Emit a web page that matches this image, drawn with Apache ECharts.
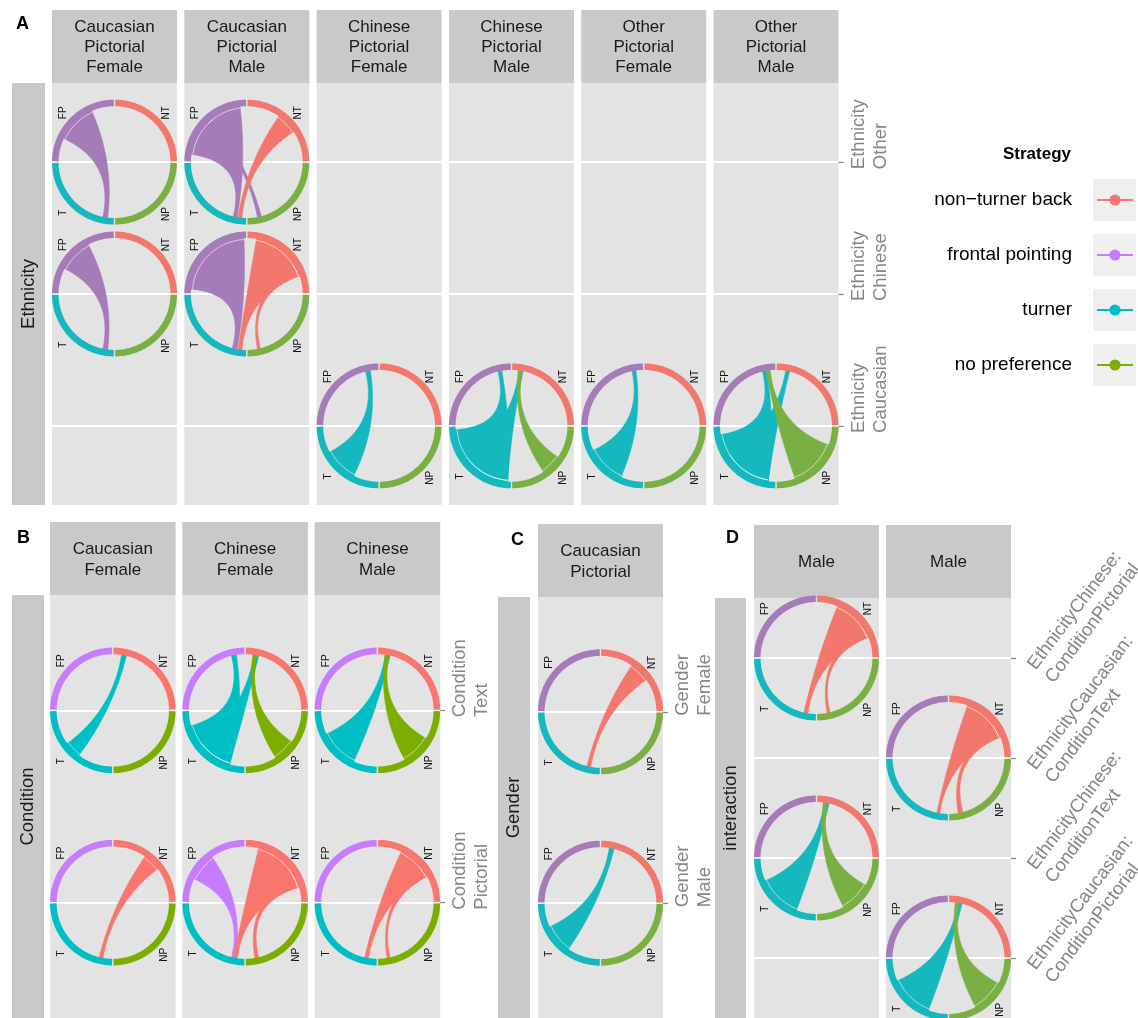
<!DOCTYPE html>
<html><head><meta charset="utf-8">
<script src="https://cdn.jsdelivr.net/npm/echarts@6/dist/echarts.min.js"></script>
<style>html,body{margin:0;padding:0;background:#fff}#c{width:1138px;height:1018px}</style>
</head><body><div id="c"></div>
<script>
// ---------------- data ----------------
const strategyCodes = ['NT', 'FP', 'T', 'NP'];
const strategyNames = ['non−turner back', 'frontal pointing', 'turner', 'no preference'];

const colsA = ['Caucasian\nPictorial\nFemale', 'Caucasian\nPictorial\nMale', 'Chinese\nPictorial\nFemale', 'Chinese\nPictorial\nMale', 'Other\nPictorial\nFemale', 'Other\nPictorial\nMale'];
const rowsA = ['Ethnicity\nOther', 'Ethnicity\nChinese', 'Ethnicity\nCaucasian'];
const colsB = ['Caucasian\nFemale', 'Chinese\nFemale', 'Chinese\nMale'];
const rowsB = ['Condition\nText', 'Condition\nPictorial'];
const colsC = ['Caucasian\nPictorial'];
const rowsC = ['Gender\nFemale', 'Gender\nMale'];
const colsD = ['Male', 'Male'];
const rowsD = ['EthnicityChinese:\nConditionPictorial', 'EthnicityCaucasian:\nConditionText', 'EthnicityChinese:\nConditionText', 'EthnicityCaucasian:\nConditionPictorial'];

// flows: [column, row, from, to, from-span start (deg), from-span end (deg), to-span start (deg), to-span end (deg)]
const flowsA = [
  [0, 0, 'FP', 'T', 114, 155, 258, 263],
  [0, 1, 'FP', 'T', 118, 153, 258, 263],
  [1, 0, 'FP', 'T', 97, 172, 256, 260],
  [1, 0, 'FP', 'NP', 128, 136, 281, 285],
  [1, 0, 'NT', 'T', 33, 55, 261, 265],
  [1, 1, 'FP', 'T', 93, 175, 255, 260],
  [1, 1, 'NT', 'T', 19, 80, 261, 265],
  [1, 1, 'NT', 'NP', 19, 33, 281, 284],
  [2, 2, 'T', 'FP', 208, 243, 99, 104],
  [3, 2, 'T', 'FP', 184, 266, 100, 104],
  [3, 2, 'T', 'NT', 215, 266, 78, 82],
  [3, 2, 'NP', 'NT', 305, 326, 79, 83],
  [4, 2, 'T', 'FP', 206, 246, 98, 102],
  [5, 2, 'T', 'FP', 189, 262, 100, 104],
  [5, 2, 'T', 'NT', 212, 262, 76, 80],
  [5, 2, 'NP', 'FP', 290, 340, 96, 100]
];
const flowsB = [
  [0, 0, 'T', 'NT', 216, 233, 76, 81],
  [0, 1, 'NT', 'T', 37, 55, 256, 260],
  [1, 0, 'T', 'FP', 196, 254, 99, 104],
  [1, 0, 'T', 'NT', 215, 254, 76, 81],
  [1, 0, 'NP', 'NT', 303, 326, 78, 82],
  [1, 1, 'FP', 'T', 126, 155, 256, 260],
  [1, 1, 'NT', 'T', 16, 76, 258, 262],
  [1, 1, 'NT', 'NP', 16, 32, 280, 284],
  [2, 0, 'T', 'NT', 205, 245, 77, 82],
  [2, 0, 'NP', 'NT', 299, 330, 78, 82],
  [2, 1, 'NT', 'T', 28, 65, 257, 261],
  [2, 1, 'NT', 'NP', 28, 38, 280, 283]
];
const flowsC = [
  [0, 0, 'NT', 'T', 35, 56, 256, 260],
  [0, 1, 'T', 'NT', 205, 235, 76, 81]
];
const flowsD = [
  [0, 0, 'NT', 'T', 22, 68, 257, 261],
  [0, 0, 'NT', 'NP', 22, 34, 281, 284],
  [0, 2, 'T', 'NT', 204, 249, 77, 82],
  [0, 2, 'NP', 'NT', 299, 331, 79, 83],
  [1, 1, 'NT', 'T', 22, 70, 258, 261],
  [1, 1, 'NT', 'NP', 22, 34, 280, 285],
  [1, 3, 'T', 'NT', 204, 249, 76, 80],
  [1, 3, 'NP', 'NT', 299, 333, 79, 83]
];

// ---------------- style / layout ----------------
const FONT = '"Liberation Sans", Arial, Helvetica, sans-serif';
const palMuted = {NT: '#F2776D', FP: '#A67CB8', T: '#15B8BE', NP: '#7AB043'};
const palBright = {NT: '#F8766D', FP: '#C77CFF', T: '#00BFC4', NP: '#7CAE00'};
const sectorStart = {NT: 0, FP: 90, T: 180, NP: 270};
const PANEL_BG = '#E3E3E3', STRIP_BG = '#C9C9C9', AXIS_GREY = '#858585';

const panels = [
  {letter: 'A', cols: colsA, rows: rowsA, flows: flowsA, pal: palMuted, rowTitle: 'Ethnicity',
   lefts: [52, 184.3, 316.6, 449, 581.2, 713.5], w: 125, top: 83, h: 422, stripTop: 10, rowStrip: [12, 45],
   lineH: 20, rot: 90, margin: 9, labShift: 7, letterPos: [11, 10]},
  {letter: 'B', cols: colsB, rows: rowsB, flows: flowsB, pal: palBright, rowTitle: 'Condition',
   lefts: [50, 182.3, 314.6], w: 125.6, top: 595, h: 423, stripTop: 522, rowStrip: [12, 44],
   lineH: 21, rot: 90, margin: 9, labShift: 7, letterPos: [12, 524]},
  {letter: 'C', cols: colsC, rows: rowsC, flows: flowsC, pal: palMuted, rowTitle: 'Gender',
   lefts: [538], w: 125, top: 597, h: 421, stripTop: 524, rowStrip: [498, 530],
   lineH: 21, rot: 90, margin: 9, labShift: 4, letterPos: [506, 526]},
  {letter: 'D', cols: colsD, rows: rowsD, flows: flowsD, pal: palMuted, rowTitle: 'interaction',
   lefts: [754, 886], w: 125, top: 598, h: 420, stripTop: 525, rowStrip: [715, 746],
   lineH: 21, rot: 53, margin: 12, labShift: 3, letterPos: [721, 524]}
];

// ---------------- geometry helpers ----------------
function arcPts(c, r, a0, a1) {
  const n = Math.max(2, Math.ceil(Math.abs(a1 - a0) / 1.5));
  const pts = [];
  for (let i = 0; i <= n; i++) {
    const a = (a0 + (a1 - a0) * i / n) * Math.PI / 180;
    pts.push([c[0] + r * Math.cos(a), c[1] - r * Math.sin(a)]);
  }
  return pts;
}
function bezPts(p0, c, p2, n) {
  const pts = [];
  for (let i = 1; i < n; i++) {
    const t = i / n, u = 1 - t;
    pts.push([u * u * p0[0] + 2 * u * t * c[0] + t * t * p2[0], u * u * p0[1] + 2 * u * t * c[1] + t * t * p2[1]]);
  }
  return pts;
}
function ribbonPts(c, r, a1, a2, b1, b2) {
  while (b1 < a2) { b1 += 360; b2 += 360; }
  const A = arcPts(c, r, a1, a2), B = arcPts(c, r, b1, b2);
  return A.concat(bezPts(A[A.length - 1], c, B[0], 48), B, bezPts(B[B.length - 1], c, A[0], 48));
}

function makeRender(p, ci) {
  return function (params, api) {
    const row = api.value(1);
    const c = api.coord([0, row]);
    const R = api.coord([1, row])[0] - c[0];
    const rIn = R * 0.895;
    const fl = p.flows.filter(f => f[0] === ci && f[1] === row);
    const children = [];
    fl.forEach(f => {
      const col = p.pal[f[2]];
      children.push({type: 'polygon', shape: {points: ribbonPts(c, rIn + 0.5, f[4], f[5], f[6], f[7])},
        style: {fill: col, stroke: col, lineWidth: 0.6, lineJoin: 'round'}});
    });
    fl.forEach(f => {
      children.push({type: 'polyline', shape: {points: arcPts(c, R * 0.872, f[4] + 0.3, f[5] - 0.3)},
        style: {stroke: 'rgba(255,255,255,0.75)', lineWidth: 0.8, fill: null}});
    });
    strategyCodes.forEach(k => {
      const s = sectorStart[k], g = 0.7;
      const outer = arcPts(c, R, s + g, s + 90 - g);
      const inner = arcPts(c, rIn, s + 90 - g, s + g);
      children.push({type: 'polygon', shape: {points: outer.concat(inner)}, style: {fill: p.pal[k], stroke: null}});
    });
    const lab = [['FP', -0.82, -0.79], ['NT', 0.82, -0.79], ['T', -0.82, 0.81], ['NP', 0.82, 0.83]];
    lab.forEach(l => {
      children.push({type: 'text', x: c[0] + l[1] * R, y: c[1] + l[2] * R, rotation: Math.PI / 2,
        style: {text: l[0], x: 0, y: 0, fill: '#111', fontSize: 10, fontFamily: FONT, align: 'center', verticalAlign: 'middle'}});
    });
    return {type: 'group', children: children};
  };
}

// ---------------- build option ----------------
const grids = [], xAxes = [], yAxes = [], series = [], graphics = [], titles = [];

panels.forEach(p => {
  const n = p.rows.length;
  const vals = p.rows.map((_, i) => i);
  const pxPerUnit = p.h / (n + 0.2);
  const labVals = vals.map(v => v + p.labShift / pxPerUnit);
  titles.push({text: p.letter, left: p.letterPos[0], top: p.letterPos[1],
    textStyle: {fontSize: 18, fontWeight: 'bold', color: '#000', fontFamily: FONT}});
  // row strip
  graphics.push({type: 'rect', shape: {x: p.rowStrip[0], y: p.top, width: p.rowStrip[1] - p.rowStrip[0], height: p.h}, style: {fill: STRIP_BG}, z: 1});
  graphics.push({type: 'text', x: (p.rowStrip[0] + p.rowStrip[1]) / 2, y: p.top + p.h / 2, rotation: Math.PI / 2, z: 2,
    style: {text: p.rowTitle, fill: '#1a1a1a', fontSize: 18.5, fontFamily: FONT, align: 'center', verticalAlign: 'middle'}});
  p.cols.forEach((colName, ci) => {
    const gi = grids.length;
    const last = ci === p.cols.length - 1;
    const left = p.lefts[ci];
    grids.push({left: left, top: p.top, width: p.w, height: p.h, show: true, backgroundColor: PANEL_BG, borderWidth: 0,
      containLabel: false, outerBoundsMode: 'none'});
    xAxes.push({gridIndex: gi, type: 'value', min: -1, max: 1, show: false});
    const lab = {show: last, customValues: labVals, color: AXIS_GREY, fontSize: 18.5, fontFamily: FONT, lineHeight: 22,
      rotate: p.rot, align: 'left', verticalAlign: 'top', margin: p.margin,
      formatter: v => p.rows[Math.round(v)]};
    yAxes.push({gridIndex: gi, type: 'value', inverse: true, min: -0.6, max: n - 0.4, position: 'right',
      axisLine: {show: false, onZero: false},
      axisTick: {show: last, customValues: vals, length: 5, lineStyle: {color: AXIS_GREY, width: 1.3}},
      axisLabel: lab,
      splitLine: {show: true, lineStyle: {color: '#FFFFFF', width: 2}}});
    // strip
    graphics.push({type: 'rect', shape: {x: left, y: p.stripTop, width: p.w, height: p.top - p.stripTop}, style: {fill: STRIP_BG}, z: 1});
    graphics.push({type: 'text', x: left + p.w / 2, y: (p.stripTop + p.top) / 2 + 1, z: 2,
      style: {text: colName, fill: '#1a1a1a', fontSize: 17, fontFamily: FONT, align: 'center', verticalAlign: 'middle', lineHeight: p.lineH}});
    // diagrams
    const cells = [];
    p.flows.forEach(f => { if (f[0] === ci && !cells.some(c => c[1] === f[1])) cells.push([0, f[1]]); });
    series.push({type: 'custom', coordinateSystem: 'cartesian2d', xAxisIndex: gi, yAxisIndex: gi,
      data: cells, encode: {x: 0, y: 1}, renderItem: makeRender(p, ci), silent: true, clip: false});
  });
});

// legend series (no data, legend keys only)
strategyNames.forEach((nm, i) => {
  series.push({type: 'line', name: nm, xAxisIndex: 0, yAxisIndex: 0, data: [], symbol: 'circle', symbolSize: 9,
    color: palBright[strategyCodes[i]], lineStyle: {width: 2}});
});
// legend key backgrounds
[200, 255, 310, 365].forEach(y => {
  graphics.push({type: 'rect', shape: {x: 1093, y: y - 21, width: 43, height: 42}, style: {fill: '#EFEFEF'}, z: 0});
});
titles.push({text: 'Strategy', left: 998, top: 141, textStyle: {fontSize: 17, fontWeight: 'bold', color: '#000', fontFamily: FONT}});

const option = {
  animation: false,
  textStyle: {fontFamily: FONT},
  title: titles,
  grid: grids,
  xAxis: xAxes,
  yAxis: yAxes,
  legend: {orient: 'vertical', right: 4, top: 190, padding: 0, align: 'right', itemWidth: 36, itemHeight: 14, itemGap: 35,
    selectedMode: false, data: strategyNames,
    textStyle: {fontSize: 19, color: '#000', fontFamily: FONT, lineHeight: 20, padding: [0, 20, 0, 0]}},
  graphic: graphics,
  series: series
};

const chart = echarts.init(document.getElementById('c'), null, {renderer: 'canvas'});
chart.setOption(option);
</script>
</body></html>
